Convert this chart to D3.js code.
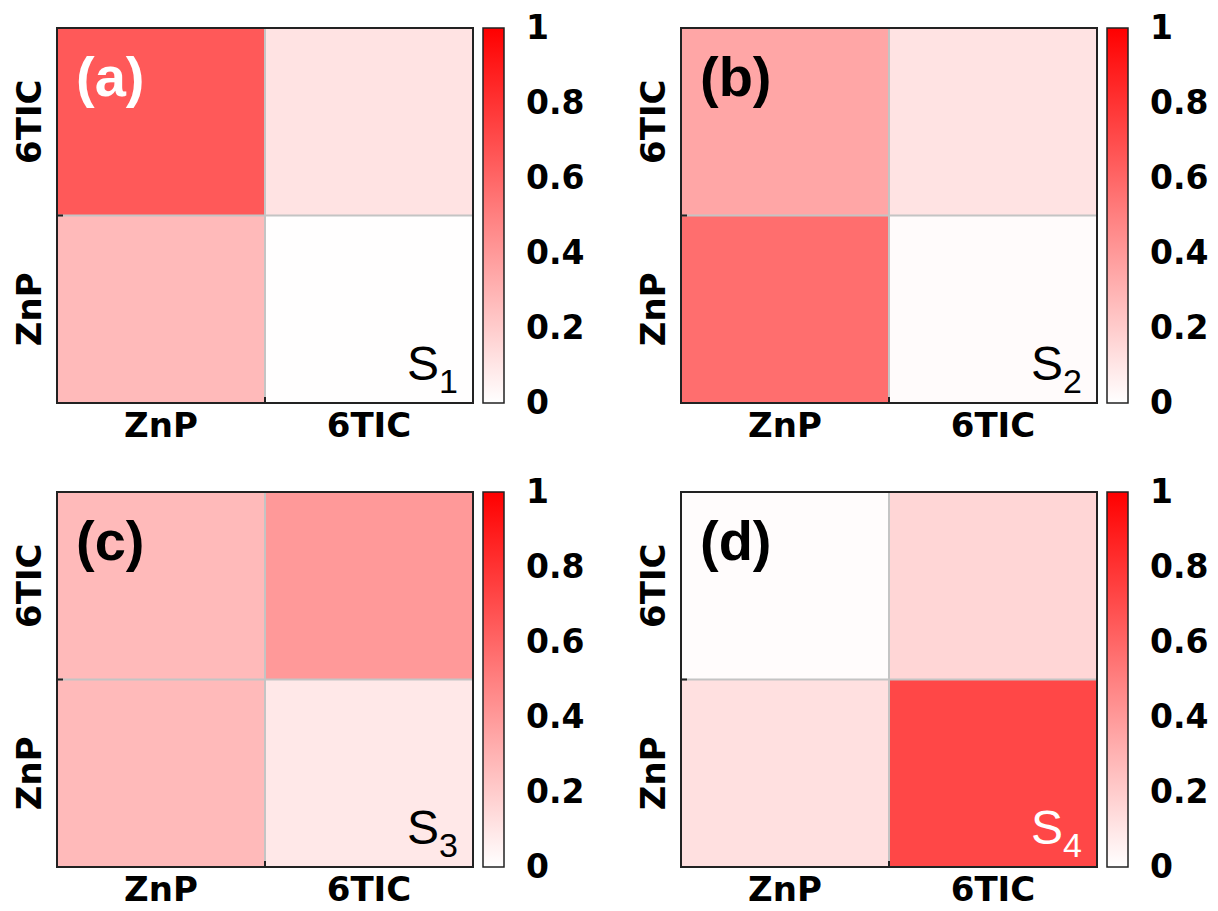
<!DOCTYPE html>
<html><head><meta charset="utf-8">
<script src="https://cdn.jsdelivr.net/npm/d3@7"></script>
<style>body{margin:0;background:#fff}svg{display:block}</style>
</head><body>
<svg id="c" width="1218" height="911"></svg>
<script>
// categories (rows listed bottom to top on y; columns left to right on x)
const categories = ["ZnP", "6TIC"];
const panelLabels = ["(a)", "(b)", "(c)", "(d)"];
const stateSubscripts = ["1", "2", "3", "4"];
// values[yIndex][xIndex], yIndex 0 = ZnP (bottom row), 1 = 6TIC (top row)
const valuesS1 = [[0.27, 0.005], [0.65, 0.11]];
const valuesS2 = [[0.57, 0.015], [0.35, 0.11]];
const valuesS3 = [[0.27, 0.09], [0.27, 0.40]];
const valuesS4 = [[0.12, 0.72], [0.01, 0.16]];
const colorbarTicks = [0, 0.2, 0.4, 0.6, 0.8, 1];

const panels = [
  {vals: valuesS1, label: panelLabels[0], sub: stateSubscripts[0], labelColor: "#fff", stateColor: "#000"},
  {vals: valuesS2, label: panelLabels[1], sub: stateSubscripts[1], labelColor: "#000", stateColor: "#000"},
  {vals: valuesS3, label: panelLabels[2], sub: stateSubscripts[2], labelColor: "#000", stateColor: "#000"},
  {vals: valuesS4, label: panelLabels[3], sub: stateSubscripts[3], labelColor: "#000", stateColor: "#fff"}
];

const svg = d3.select("#c");
const color = d3.scaleLinear().domain([0, 1]).range(["#ffffff", "#ff0000"]).interpolate(d3.interpolateRgb);

const defs = svg.append("defs");
const grad = defs.append("linearGradient").attr("id", "cbar").attr("x1", 0).attr("y1", 1).attr("x2", 0).attr("y2", 0);
d3.range(0, 1.0001, 0.1).forEach(t => grad.append("stop").attr("offset", t).attr("stop-color", color(t)));

const W = 416, H = 375;
const origins = [[57, 28], [681, 28], [57, 492], [681, 492]];

panels.forEach((p, i) => {
  const [ox, oy] = origins[i];
  const g = svg.append("g").attr("transform", `translate(${ox},${oy})`);
  const x = d3.scaleBand().domain(categories).range([0, W]);
  const y = d3.scaleBand().domain(categories).range([H, 0]);

  const cells = [];
  categories.forEach((ry, yi) => categories.forEach((cx, xi) => cells.push({ry, cx, v: p.vals[yi][xi]})));
  g.selectAll("rect.cell").data(cells).join("rect")
    .attr("x", d => x(d.cx)).attr("y", d => y(d.ry))
    .attr("width", x.bandwidth()).attr("height", y.bandwidth())
    .attr("fill", d => color(d.v));

  // grid separators
  g.append("line").attr("x1", x("6TIC")).attr("x2", x("6TIC")).attr("y1", 0).attr("y2", H)
    .attr("stroke", "#c4c4c4").attr("stroke-width", 2);
  g.append("line").attr("x1", 0).attr("x2", W).attr("y1", y("ZnP")).attr("y2", y("ZnP"))
    .attr("stroke", "#c4c4c4").attr("stroke-width", 2);

  // inward ticks at boundaries
  g.append("line").attr("x1", x("6TIC")).attr("x2", x("6TIC")).attr("y1", H).attr("y2", H - 6).attr("stroke", "#222").attr("stroke-width", 2);
  g.append("line").attr("x1", 0).attr("x2", 6).attr("y1", y("ZnP")).attr("y2", y("ZnP")).attr("stroke", "#222").attr("stroke-width", 2);

  g.append("rect").attr("x", 0).attr("y", 0).attr("width", W).attr("height", H)
    .attr("fill", "none").attr("stroke", "#222").attr("stroke-width", 2);

  // axis tick labels
  const fnt = "'DejaVu Sans', sans-serif";
  g.selectAll("text.xl").data(categories).join("text")
    .attr("x", d => x(d) + x.bandwidth() / 2).attr("y", H + 34)
    .attr("text-anchor", "middle").attr("font-family", fnt).attr("font-weight", "bold")
    .attr("font-size", 34).attr("fill", "#000").text(d => d);
  g.selectAll("text.yl").data(categories).join("text")
    .attr("transform", d => `translate(-16,${y(d) + y.bandwidth() / 2}) rotate(-90)`)
    .attr("text-anchor", "middle").attr("font-family", fnt).attr("font-weight", "bold")
    .attr("font-size", 34).attr("fill", "#000").text(d => d);

  // panel label
  g.append("text").attr("x", 19).attr("y", 68).attr("font-family", "'Liberation Sans', Arial, sans-serif")
    .attr("font-weight", "bold").attr("font-size", 56).attr("fill", p.labelColor).text(p.label);

  // state label
  const st = g.append("text").attr("x", W - 15).attr("y", H - 23).attr("text-anchor", "end")
    .attr("font-family", "'Liberation Sans', Arial, sans-serif").attr("font-size", 48).attr("fill", p.stateColor);
  st.append("tspan").text("S");
  st.append("tspan").attr("font-size", 34).attr("dy", 13).text(p.sub);

  // colorbar
  const cb = g.append("g").attr("transform", `translate(${W + 10},0)`);
  cb.append("rect").attr("width", 21).attr("height", H).attr("fill", "url(#cbar)")
    .attr("stroke", "#222").attr("stroke-width", 1.5);
  const cy = d3.scaleLinear().domain([0, 1]).range([H, 0]);
  const ax = cb.append("g").attr("transform", "translate(21,0)")
    .call(d3.axisRight(cy).tickValues(colorbarTicks).tickSize(0).tickPadding(22)
      .tickFormat(d => (d === 0 || d === 1) ? String(d) : d.toFixed(1)));
  ax.select(".domain").remove();
  ax.selectAll("text").attr("font-family", fnt).attr("font-weight", "bold").attr("font-size", 33).attr("fill", "#000");
});
</script>
</body></html>
